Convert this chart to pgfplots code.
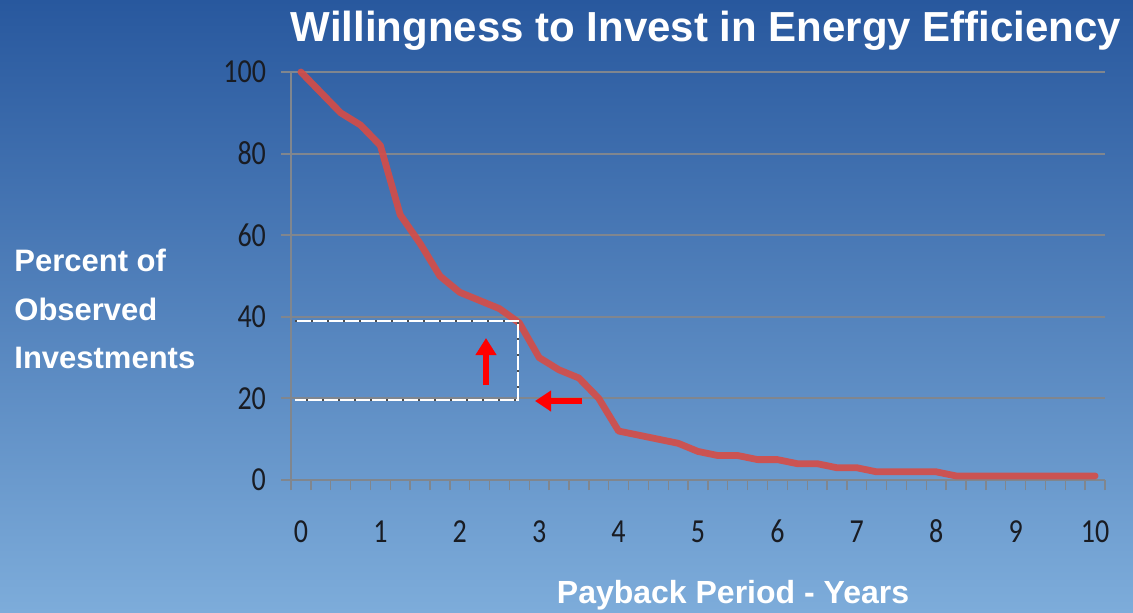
\documentclass[border=0pt]{standalone}
\usepackage{pgfplots}
\pgfplotsset{compat=1.18}
\usetikzlibrary{arrows.meta}
\usepackage{fontspec}
\setmainfont{Liberation Sans}
\newfontfamily\calibri{Carlito}
\definecolor{bgtop}{RGB}{40,88,158}
\definecolor{bgmid}{RGB}{68,134,202}
\definecolor{bgbot}{RGB}{125,172,218}
\definecolor{gridgray}{RGB}{128,134,142}
\definecolor{curvered}{RGB}{214,76,70}
\definecolor{ticktext}{RGB}{25,28,35}

\pgfplotstableread{
x y
0 100
0.25 95
0.5 90
0.75 87
1.0 82
1.25 65
1.5 58
1.75 50
2.0 46
2.25 44
2.5 42
2.75 38.5
3.0 30
3.25 27
3.5 25
3.75 20
4.0 12
4.25 11
4.5 10
4.75 9
5.0 7
5.25 6
5.5 6
5.75 5
6.0 5
6.25 4
6.5 4
6.75 3
7.0 3
7.25 2
7.5 2
7.75 2
8.0 2
8.25 1
8.5 1
8.75 1
9.0 1
9.25 1
9.5 1
9.75 1
10.0 1
}\payback

\begin{document}
\begin{tikzpicture}[x=0.5pt,y=0.5pt]
\useasboundingbox (0,0) rectangle (1133,612);
\shade[top color=bgtop, middle color=bgmid, bottom color=bgbot] (0,0) rectangle (1133,612);

\begin{axis}[
  at={(145.5pt,66pt)},
  anchor=south west,
  scale only axis,
  width=407pt,
  height=204pt,
  xmin=-0.125, xmax=10.125,
  ymin=0, ymax=100,
  axis x line=bottom,
  axis y line=left,
  axis line style={-, draw=gridgray, line width=0.8pt},
  xtick={0,1,...,10},
  minor xtick={-0.125,0.125,...,10.2},
  ytick={0,20,...,100},
  ymajorgrids=true,
  grid style={draw=gridgray, line width=1pt},
  tick align=outside,
  major tick length=5pt,
  minor tick length=5pt,
  major x tick style={draw=none},
  minor x tick style={draw=gridgray, line width=0.7pt},
  major y tick style={draw=gridgray, line width=1pt},
  /pgf/number format/assume math mode=true,
  tick label style={font=\calibri\fontsize{14}{16}\selectfont, text=ticktext},
  xticklabel={\scalebox{1}[1.2]{\pgfmathprintnumber{\tick}}},
  yticklabel={\scalebox{1}[1.2]{\pgfmathprintnumber{\tick}}},
  xticklabel style={anchor=base, yshift=-26pt},
  yticklabel style={xshift=-4pt},
  clip=false,
]
\addplot[curvered, opacity=0.9, line width=3.4pt, line join=round, line cap=round] table[x=x,y=y] {\payback};
\end{axis}

% highlight box
\draw[white, line width=1.1pt] (295,291) -- (518,291) -- (518,212) -- (295,212);
\draw[black!70, line width=0.6pt, dash pattern=on 0.8pt off 7.2pt] (295,291) -- (518,291) -- (518,212) -- (295,212);

% red arrows
\draw[red, line width=3pt, -{Triangle[width=10pt,length=8.5pt]}] (486,227) -- (486,274);
\draw[red, line width=3pt, -{Triangle[width=10pt,length=8pt]}] (582,211) -- (535,211);

% text
\node[white, font=\bfseries\fontsize{21}{25}\selectfont] at (706,581) {Willingness to Invest in Energy Efficiency};
\node[white, font=\bfseries\fontsize{15.5}{18}\selectfont, anchor=west, inner sep=0] at (14,352) {Percent of};
\node[white, font=\bfseries\fontsize{15.5}{18}\selectfont, anchor=west, inner sep=0] at (14,303) {Observed};
\node[white, font=\bfseries\fontsize{15.5}{18}\selectfont, anchor=west, inner sep=0] at (14,254) {Investments};
\node[white, font=\bfseries\fontsize{16}{19}\selectfont] at (733,17) {Payback Period - Years};
\end{tikzpicture}
\end{document}
